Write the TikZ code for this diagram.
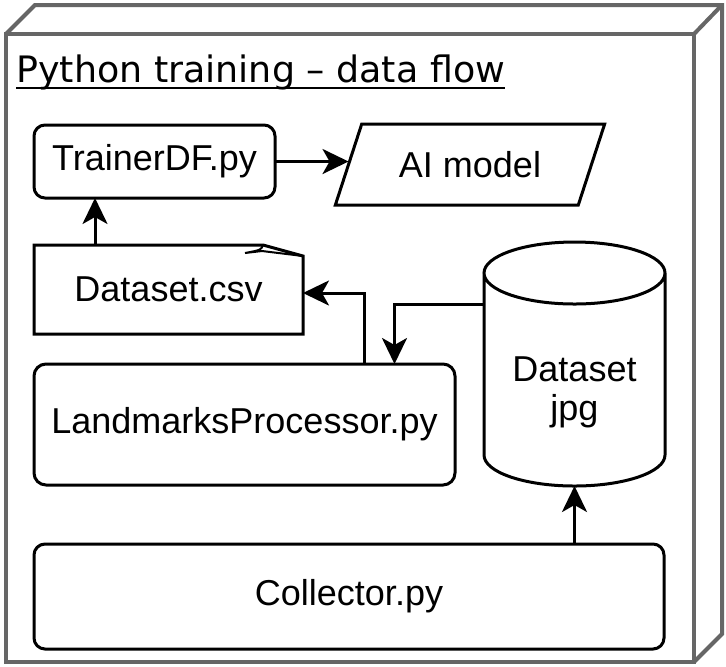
\documentclass[tikz,border=0pt]{standalone}
\usepackage{fontspec}
\setmainfont{Liberation Sans}
\newfontfamily\titlefont{DejaVu Sans}
\usepackage{tikz}
\usetikzlibrary{arrows.meta, shapes.geometric}
\definecolor{framegray}{RGB}{102,102,102}

\begin{document}
\begin{tikzpicture}[x=0.5pt, y=-0.5pt,
                plain/.style={inner sep=0pt, outer sep=0pt, font=\fontsize{18}{19.5}\selectfont},
                box/.style={plain, draw, line width=1.5pt, rounded corners=5.5pt},
                flow/.style={-{Stealth[length=13pt, width=12.5pt, inset=3.5pt]}, line width=1.5pt}]
                        \useasboundingbox (0, 0) rectangle (726, 666);
                        \fill[white] (0, 0) rectangle (726, 666);
                        \node[draw=framegray, line width=2pt, inner sep=0pt, outer sep=0pt, minimum width=344pt, minimum height=314pt] (frame) at (350, 348) {};
                        \draw[framegray, line width=2pt] (frame.north west) -- ++(14.5pt, 14.5pt) -| ([shift={(14pt, 14pt)}]frame.south east) -- (frame.south east) (frame.north east) -- ++(14pt, 14.5pt);
                        \node[anchor=base west, inner sep=0pt, font=\titlefont\fontsize{18.2}{22}\selectfont] (title) at (16, 82) {Python training – data flow};
                        \draw[line width=1.2pt] ([yshift=-3pt]title.base west) -- ([yshift=-3pt]title.base east);
                        \node[box, minimum width=120.5pt, minimum height=36.5pt] (trainer) at (154.5, 161.5) {TrainerDF.py};
                        \node[plain, draw, line width=1.5pt, trapezium, trapezium left angle=56.8, trapezium right angle=123.2, trapezium stretches=true, minimum width=135pt, minimum height=40.5pt] (model) at (470, 164.5) {AI model};
                        \node[plain, minimum width=134.5pt, minimum height=44.5pt] (csv) at (168.5, 289.5) {Dataset.csv};
                        \draw[line width=1.5pt] (csv.south west) -- (csv.north west) -- ([xshift=-20pt]csv.north east) -- ([yshift=-5.5pt]csv.north east) -- (csv.south east) -- cycle;
                        \draw[line width=1pt] ([xshift=-20pt]csv.north east) .. controls ([shift={(-21pt, -2.5pt)}]csv.north east) .. ([shift={(-29pt, -4pt)}]csv.north east) -- ([shift={(-20.5pt, -3pt)}]csv.north east) -- ([yshift=-5.5pt]csv.north east);
                        \node[box, rounded corners=6pt, minimum width=210.5pt, minimum height=60.5pt] (lmp) at (244.5, 424.5) {LandmarksProcessor.py};
                        \node[box, minimum width=315pt, minimum height=52.5pt] (collector) at (349, 596.5) {Collector.py};
                        \node[plain, minimum width=90.5pt, minimum height=122pt] (jpg) at (574.5, 364) {};
                        \draw[line width=1.5pt, fill=white] ([yshift=-15.5pt]jpg.north west) -- ([yshift=15.5pt]jpg.south west) arc[start angle=180, end angle=360, x radius=45.25pt, y radius=15.5pt] -- ([yshift=-15.5pt]jpg.north east) arc[start angle=0, end angle=180, x radius=45.25pt, y radius=15.5pt] arc[start angle=180, end angle=360, x radius=45.25pt, y radius=15.5pt];
                        \node[plain, align=center] (jpglabel) at (574.5, 392) {Dataset\\jpg};
                        \draw[flow] (trainer.east) -- (trainer.east -| model.west);
                        \draw[flow] ([xshift=30.5pt]csv.north west) -- ([xshift=30.5pt]trainer.south west);
                        \draw[flow] ([xshift=60pt]lmp.north) |- ([yshift=-1.75pt]csv.east);
                        \draw[flow] ([yshift=30pt]jpg.west) -| ([xshift=75pt]lmp.north);
                        \draw[flow] (jpg.south |- collector.north) -- (jpg.south);
                \end{tikzpicture}
\end{document}
